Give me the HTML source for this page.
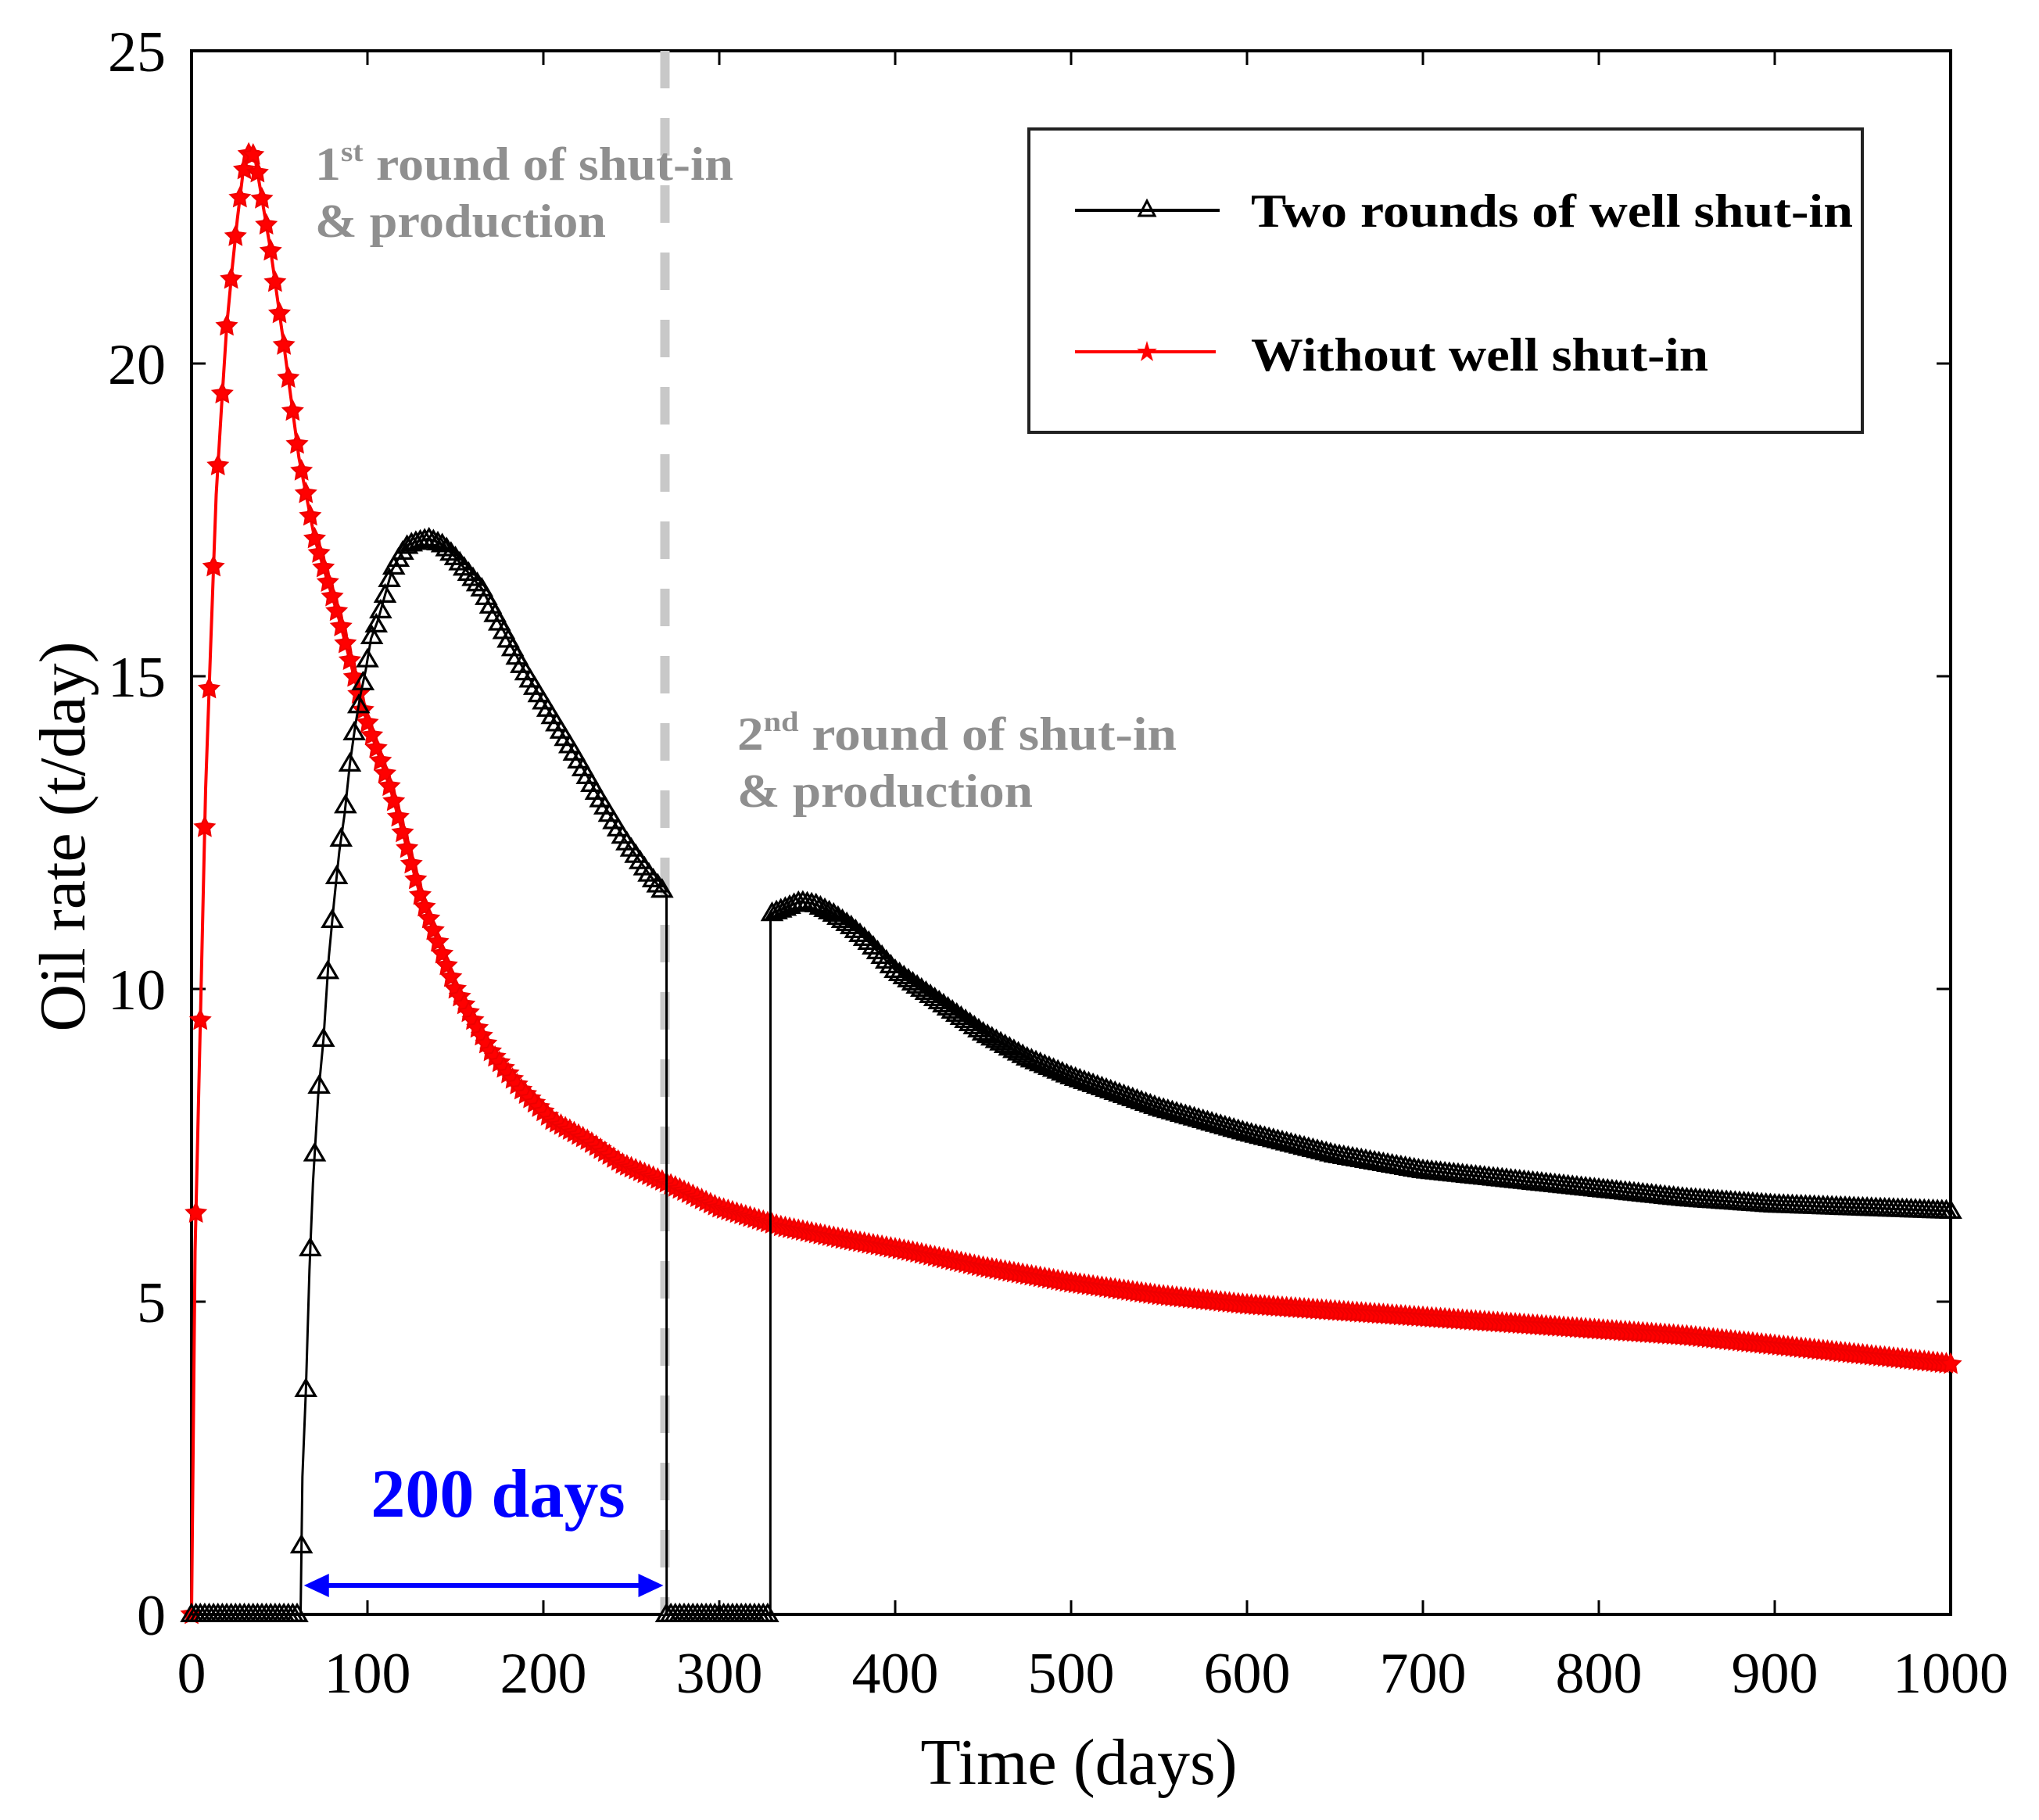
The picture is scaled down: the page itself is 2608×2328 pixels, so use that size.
<!DOCTYPE html>
<html><head><meta charset="utf-8"><style>
html,body{margin:0;padding:0;background:#fff;}
svg{display:block;font-family:"Liberation Serif",serif;}
</style></head><body>
<svg id="chart" width="2608" height="2328" viewBox="0 0 2608 2328" xmlns="http://www.w3.org/2000/svg">
<g id="plot"></g>
</svg>
<script>
// Data
const redT = [0,2,5,8,11,14,17,20,23,26,29,33,36,39,45,52,61,70,84,97,113,130,150,170,187,205,224,245,270,300,335,370,409,450,500,550,600,650,700,750,800,850,900,950,1000];
const redV = [0,5.8,9.5,13.2,15.6,17.9,19.3,20.6,21.5,22.3,23.0,23.4,23.3,22.8,21.8,20.4,18.5,17.2,15.9,14.5,13.2,11.5,10.0,9.0,8.4,7.9,7.6,7.2,6.9,6.5,6.2,6.0,5.8,5.55,5.3,5.1,4.95,4.85,4.75,4.65,4.55,4.45,4.3,4.15,4.0];
const blkT = [0,62,63,65,67,69,72,75,78,81,84,87,90,93,96,99,102,106,110,114,119,123,128,135,143,150,165,187,202,217,231,246,261,270,270.1,329,329.1,338,346,355,365,375,385,400,425,450,475,500,550,600,650,700,750,800,850,900,950,1000];
const blkV = [0,0,2.2,3.6,5.5,6.9,8.3,9.2,10.5,11.4,12.2,12.8,13.6,14.2,14.7,15.1,15.6,15.9,16.3,16.7,16.95,17.1,17.15,17.2,17.1,16.9,16.4,15.2,14.5,13.8,13.1,12.4,11.8,11.5,0,0,11.2,11.3,11.4,11.35,11.2,11.0,10.75,10.3,9.8,9.3,8.9,8.6,8.1,7.7,7.35,7.1,6.95,6.8,6.65,6.55,6.5,6.45];
const xTicks = [0,100,200,300,400,500,600,700,800,900,1000];
const yTicks = [0,5,10,15,20,25];
const shutEnd = 270, shutStart = 63;

const X0=245, X1=2495, Y0=2065, Y1=65;
const xs = t => X0 + (t/1000)*(X1-X0);
const ys = v => Y0 - (v/25)*(Y0-Y1);
const NS='http://www.w3.org/2000/svg';
const g=document.getElementById('plot');
function mk(tag,attrs,parent){const e=document.createElementNS(NS,tag);for(const k in attrs)e.setAttribute(k,attrs[k]);(parent||g).appendChild(e);return e;}

const box=mk('rect',{x:X0,y:Y1,width:X1-X0,height:Y0-Y1,fill:'none',stroke:'#000','stroke-width':4});


xTicks.forEach(t=>{
  const a=mk('line',{x1:xs(t),x2:xs(t),y1:Y0,y2:Y0-18,stroke:'#000','stroke-width':3});
  
  
  const b=mk('line',{x1:xs(t),x2:xs(t),y1:Y1,y2:Y1+18,stroke:'#000','stroke-width':3});
  
  
  const l=mk('text',{x:xs(t),y:2165,'text-anchor':'middle','font-size':74,fill:'#000'});
  l.textContent=t;
  
  
});
yTicks.forEach(v=>{
  const a=mk('line',{x1:X0,x2:X0+18,y1:ys(v),y2:ys(v),stroke:'#000','stroke-width':3});
  
  
  const b=mk('line',{x1:X1,x2:X1-18,y1:ys(v),y2:ys(v),stroke:'#000','stroke-width':3});
  
  
  const l=mk('text',{x:212,y:ys(v)+26,'text-anchor':'end','font-size':74,fill:'#000'});
  l.textContent=v;
  
  
});
const xt=mk('text',{x:1380,y:2282,'text-anchor':'middle','font-size':84,fill:'#000'});
xt.textContent='Time (days)';


const yt=mk('text',{x:0,y:0,'text-anchor':'middle','font-size':84,fill:'#000',transform:'translate(108,1070) rotate(-90)'});
yt.textContent='Oil rate (t/day)';



const dl=mk('line',{x1:xs(shutEnd)-2,x2:xs(shutEnd)-2,y1:Y1,y2:Y0,stroke:'#c8c8c8','stroke-width':12,'stroke-dasharray':'48 38'});



function interp(T,V,t){for(let i=0;i<T.length-1;i++){if(t>=T[i]&&t<=T[i+1]){const d=T[i+1]-T[i];return d===0?V[i+1]:V[i]+(V[i+1]-V[i])*(t-T[i])/d;}}return V[V.length-1];}
function pts(T,V){return T.map((t,i)=>xs(t).toFixed(1)+','+ys(V[i]).toFixed(1)).join(' ');}

const rl=mk('polyline',{points:pts(redT,redV),fill:'none',stroke:'#ff0000','stroke-width':4});


function star(cx,cy,r){let s='';for(let k=0;k<10;k++){const a=-Math.PI/2+k*Math.PI/5;const rr=k%2?r*0.5:r;s+=(cx+rr*Math.cos(a)).toFixed(1)+','+(cy+rr*Math.sin(a)).toFixed(1)+' ';}return s;}
const rm=mk('g',{});


for(let t=0;t<=1000;t+=2.5){
  const m=mk('polygon',{points:star(xs(t),ys(interp(redT,redV,t)),13),fill:'#ff0000',stroke:'#ee0000','stroke-width':2},rm);
  
  
}

const bl=mk('polyline',{points:pts(blkT,blkV),fill:'none',stroke:'#000','stroke-width':3});


function tri(cx,cy,r){return (cx)+','+(cy-r)+' '+(cx+r)+','+(cy+r*0.7)+' '+(cx-r)+','+(cy+r*0.7);}
const bm=mk('g',{});


const bTimes=[];
for(let t=0;t<=1000;t+=2.5){bTimes.push(t);}
bTimes.forEach(t=>{
  let v;
  if(t>=shutEnd && t<329) v=0; else v=interp(blkT,blkV,t);
  const m=mk('polygon',{points:tri(xs(t),ys(v),12),fill:'none',stroke:'#000','stroke-width':3.2},bm);
  
  
});

const ar=mk('g',{});


const ay=2028, ax1=xs(shutStart)+2, ax2=xs(shutEnd)-4;
mk('line',{x1:ax1+25,x2:ax2-25,y1:ay,y2:ay,stroke:'#0000ff','stroke-width':6},ar);
mk('polygon',{points:`${ax1},${ay} ${ax1+32},${ay-15} ${ax1+32},${ay+15}`,fill:'#0000ff'},ar);
mk('polygon',{points:`${ax2},${ay} ${ax2-32},${ay-15} ${ax2-32},${ay+15}`,fill:'#0000ff'},ar);
const at=mk('text',{x:637,y:1940,'text-anchor':'middle','font-size':88,'font-weight':'bold',fill:'#0000ff'});
at.textContent='200 days';


</script>
<script>
const s=document.getElementById('chart');
function addT(html){s.insertAdjacentHTML('beforeend',html);}
addT('<text x="403" y="230" font-size="60" font-weight="bold" fill="#8f8f8f" textLength="535" lengthAdjust="spacingAndGlyphs">1<tspan font-size="36" dy="-24">st</tspan><tspan dy="24"> round of shut-in</tspan></text>');
addT('<text x="403" y="303" font-size="60" font-weight="bold" fill="#8f8f8f" textLength="372" lengthAdjust="spacingAndGlyphs">&amp; production</text>');
addT('<text x="943" y="959" font-size="60" font-weight="bold" fill="#8f8f8f" textLength="562" lengthAdjust="spacingAndGlyphs">2<tspan font-size="36" dy="-24">nd</tspan><tspan dy="24"> round of shut-in</tspan></text>');
addT('<text x="943" y="1032" font-size="60" font-weight="bold" fill="#8f8f8f" textLength="378" lengthAdjust="spacingAndGlyphs">&amp; production</text>');
addT('<g><rect x="1316" y="165" width="1066" height="388" fill="#fff" stroke="#222" stroke-width="4"/>'+
'<line x1="1375" x2="1560" y1="269" y2="269" stroke="#000" stroke-width="4"/><polygon points="1467,257 1477,276 1457,276" fill="none" stroke="#000" stroke-width="3"/>'+
'<text x="1600" y="290" font-size="60" font-weight="bold" fill="#000" textLength="770" lengthAdjust="spacingAndGlyphs">Two rounds of well shut-in</text>'+
'<line x1="1375" x2="1555" y1="450" y2="450" stroke="#ff0000" stroke-width="4"/><polygon points="1467,436 1470,446 1480,446 1472,452 1475,462 1467,456 1459,462 1462,452 1454,446 1464,446" fill="#ff0000"/>'+
'<text x="1600" y="474" font-size="60" font-weight="bold" fill="#000" textLength="585" lengthAdjust="spacingAndGlyphs">Without well shut-in</text></g>');
</script>
</body></html>
